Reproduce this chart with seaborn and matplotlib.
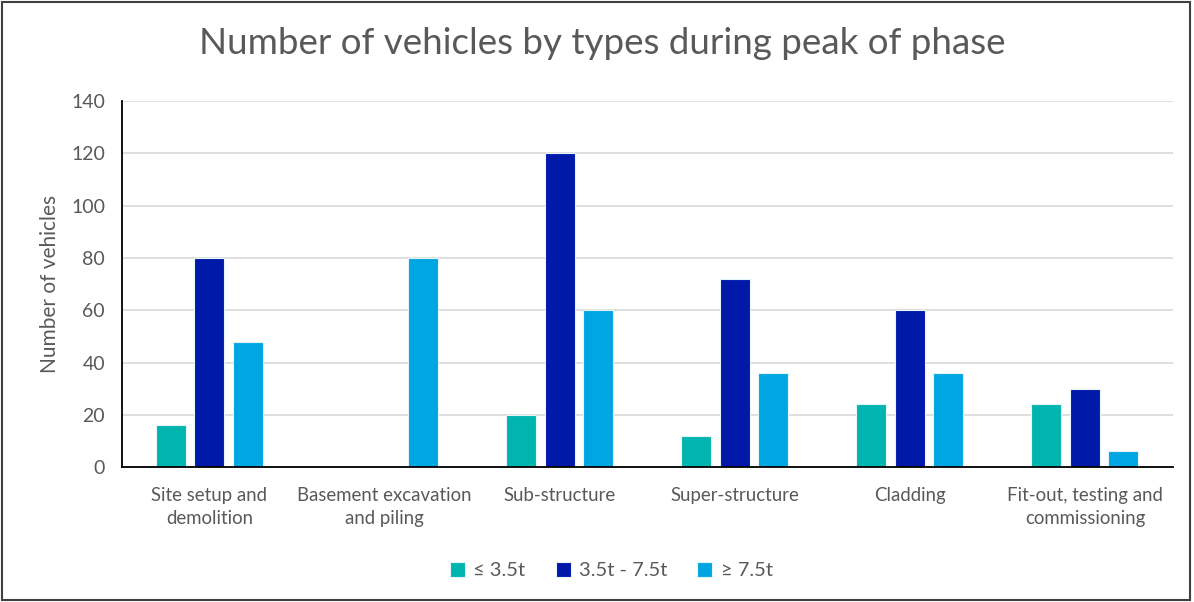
import pandas as pd
import matplotlib.pyplot as plt
import seaborn as sns
from matplotlib.patches import Rectangle

# Data
phases = ['Site setup and\ndemolition', 'Basement excavation\nand piling', 'Sub-structure',
          'Super-structure', 'Cladding', 'Fit-out, testing and\ncommissioning']
light = [16, 0, 20, 12, 24, 24]
medium = [80, 0, 120, 72, 60, 30]
heavy = [48, 80, 60, 36, 36, 6]
types = ['\u2264 3.5t', '3.5t - 7.5t', '\u2265 7.5t']

rows = []
for i, p in enumerate(phases):
    for t, vals in zip(types, [light, medium, heavy]):
        rows.append({'Phase': p, 'Type': t, 'Vehicles': vals[i]})
df = pd.DataFrame(rows)

sns.set_theme(style="white")
plt.rcParams['font.family'] = ['Lato', 'DejaVu Sans']
txt = '#595959'

fig = plt.figure(figsize=(11.94, 6.02), dpi=100)
ax = fig.add_axes([0.102, 0.224, 0.880, 0.608])
palette = {types[0]: '#00B5AD', types[1]: '#0019A8', types[2]: '#00A6E2'}
sns.barplot(data=df, x='Phase', y='Vehicles', hue='Type', palette=palette,
            width=0.66, gap=0.22, saturation=1, edgecolor='#E6F4FA', linewidth=0.8, ax=ax)

ax.set_ylim(0, 140)
ax.set_yticks(range(0, 141, 20))
ax.set_xlim(-0.5, 5.5)
ax.yaxis.grid(True, color='#D9D9D9', linewidth=1.2)
ax.set_axisbelow(True)
for s in ['top', 'right']:
    ax.spines[s].set_visible(False)
ax.spines['left'].set_color('black')
ax.spines['bottom'].set_color('black')
ax.spines['left'].set_linewidth(1.3)
ax.spines['bottom'].set_linewidth(1.3)
ax.tick_params(axis='y', length=0, labelsize=14, colors=txt, pad=12)
ax.tick_params(axis='x', length=0, labelsize=13.4, colors=txt, pad=14)
for lab in ax.get_xticklabels():
    lab.set_linespacing(1.45)
ax.set_xlabel('')
ax.set_ylabel('Number of vehicles', fontsize=15, color=txt, labelpad=8)
fig.suptitle('Number of vehicles by types during peak of phase', fontsize=26.5, color=txt,
             x=0.504, y=0.955)

handles, labels = ax.get_legend_handles_labels()
ax.get_legend().remove()
fig.legend(handles, labels, loc='center', bbox_to_anchor=(0.512, 0.052), ncol=3, frameon=False,
           fontsize=14.5, labelcolor=txt, handlelength=0.75, handleheight=0.75,
           handletextpad=0.4, columnspacing=1.5)

fig.add_artist(Rectangle((0.002, 0.003), 0.995, 0.993, transform=fig.transFigure,
                         fill=False, edgecolor='#404040', linewidth=1.5))

fig.savefig('out.png', dpi=100)
